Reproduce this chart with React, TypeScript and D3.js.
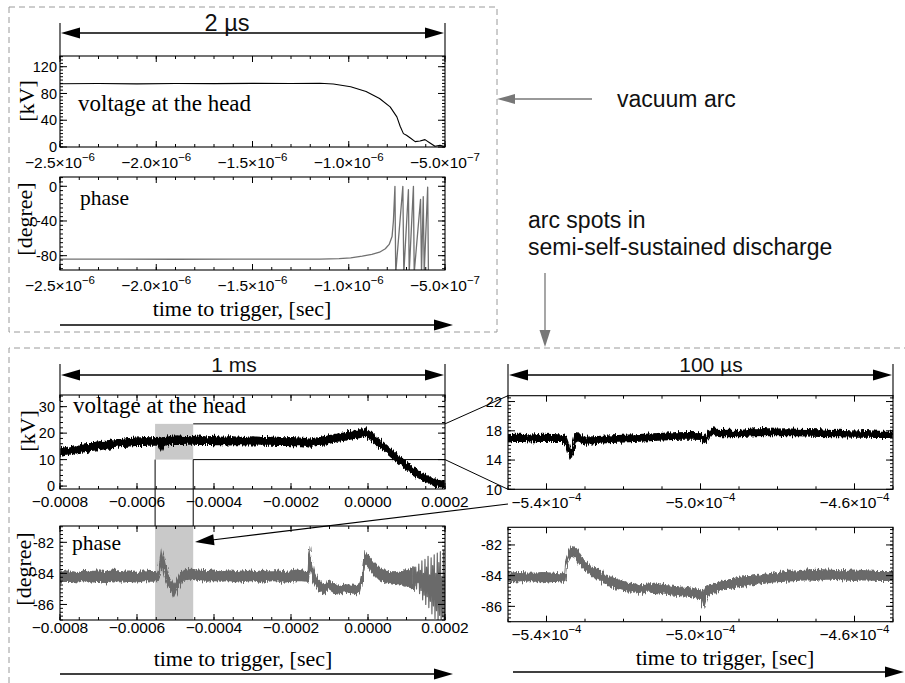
import React, { useRef, useEffect } from 'react';
import * as d3 from 'd3';

// vacuum arc, 2 us window (time in microseconds)
const arcVoltage: [number, number][] = [
  [-2.5, 94.5], [-2.3, 94.8], [-2.1, 94.4], [-1.9, 94.9], [-1.7, 94.7], [-1.5, 95.1],
  [-1.3, 95.0], [-1.15, 95.2], [-1.08, 94.2], [-0.99, 90], [-0.91, 83], [-0.84, 72.5],
  [-0.785, 60], [-0.75, 45], [-0.733, 31], [-0.716, 20], [-0.7, 17.5], [-0.68, 13.5],
  [-0.655, 8], [-0.63, 9], [-0.604, 11], [-0.578, 6], [-0.552, 1], [-0.526, 2.5], [-0.5, 0.5],
];
const arcPhase: [number, number][] = [
  [-2.5, -84], [-2.2, -84], [-1.9, -84.1], [-1.6, -84], [-1.3, -84], [-1.15, -83.9],
  [-1.05, -83.5], [-0.99, -82.5], [-0.93, -80.5], [-0.88, -78.5], [-0.84, -76], [-0.81, -72],
  [-0.79, -67], [-0.775, -58], [-0.768, -40], [-0.763, -15], [-0.76, 0], [-0.756, -100],
  [-0.719, 0], [-0.714, -100], [-0.69, -4], [-0.686, -100], [-0.664, 0], [-0.66, -100],
  [-0.627, -15], [-0.622, -100], [-0.613, -12], [-0.608, -100], [-0.59, -1], [-0.586, -100],
];

// semi-self-sustained discharge, 1 ms window (time in ms): [t, low, high] of the noisy trace
const spotVoltage: [number, number, number][] = [
  [-0.8, 11.2, 14.0], [-0.78, 11.9, 14.6], [-0.76, 12.6, 15.2], [-0.74, 12.9, 15.8],
  [-0.72, 13.5, 16.1], [-0.7, 13.8, 16.7], [-0.68, 14.3, 17.0], [-0.66, 14.6, 17.4],
  [-0.64, 14.9, 17.6], [-0.62, 15.2, 17.9], [-0.6, 15.4, 18.1], [-0.58, 15.4, 18.3],
  [-0.56, 15.6, 18.2], [-0.545, 15.5, 18.4], [-0.537, 13.2, 18.0], [-0.53, 15.4, 18.3],
  [-0.515, 15.8, 18.6], [-0.5, 15.9, 18.9], [-0.48, 15.8, 18.7], [-0.46, 16.0, 18.6],
  [-0.44, 15.8, 18.8], [-0.42, 15.9, 18.5], [-0.4, 15.7, 18.7], [-0.38, 15.8, 18.4],
  [-0.36, 15.6, 18.6], [-0.34, 15.8, 18.5], [-0.32, 15.6, 18.3], [-0.3, 15.7, 18.6],
  [-0.28, 15.5, 18.4], [-0.26, 15.6, 18.3], [-0.24, 15.4, 18.5], [-0.22, 15.5, 18.2],
  [-0.2, 15.3, 18.3], [-0.18, 15.4, 18.1], [-0.16, 15.0, 17.9], [-0.15, 14.7, 17.6],
  [-0.14, 15.2, 18.0], [-0.12, 15.5, 18.4], [-0.1, 16.2, 19.0], [-0.08, 16.9, 19.6],
  [-0.06, 17.4, 20.1], [-0.04, 17.9, 20.7], [-0.02, 18.4, 21.3], [-0.008, 18.9, 21.9],
  [0.0, 18.3, 21.0], [0.01, 17.1, 19.7], [0.02, 15.9, 18.5], [0.04, 13.6, 16.4],
  [0.06, 11.0, 13.9], [0.08, 8.6, 11.4], [0.1, 6.3, 9.0], [0.12, 4.1, 6.8],
  [0.14, 2.4, 4.9], [0.16, 1.0, 3.3], [0.18, 0.0, 2.2], [0.2, -0.6, 1.6],
];
const spotPhase: [number, number, number][] = [
  [-0.8, -84.55, -83.95], [-0.78, -84.5, -83.85], [-0.76, -84.6, -83.95], [-0.74, -84.45, -83.8],
  [-0.72, -84.55, -83.9], [-0.7, -84.5, -83.85], [-0.68, -84.6, -83.9], [-0.66, -84.45, -83.8],
  [-0.64, -84.55, -83.9], [-0.62, -84.5, -83.85], [-0.6, -84.55, -83.95], [-0.58, -84.45, -83.85],
  [-0.56, -84.5, -83.9], [-0.545, -84.45, -83.85], [-0.54, -84.1, -83.2], [-0.536, -83.3, -82.4],
  [-0.53, -83.9, -83.1], [-0.522, -84.6, -84.0], [-0.512, -85.0, -84.45], [-0.505, -85.5, -84.8],
  [-0.498, -85.1, -84.5], [-0.488, -84.6, -84.0], [-0.475, -84.4, -83.8], [-0.46, -84.35, -83.75],
  [-0.44, -84.45, -83.8], [-0.42, -84.5, -83.85], [-0.4, -84.45, -83.8], [-0.38, -84.5, -83.9],
  [-0.36, -84.45, -83.85], [-0.34, -84.55, -83.9], [-0.32, -84.5, -83.85], [-0.3, -84.45, -83.8],
  [-0.28, -84.55, -83.9], [-0.26, -84.5, -83.85], [-0.24, -84.45, -83.85], [-0.22, -84.55, -83.9],
  [-0.2, -84.5, -83.85], [-0.18, -84.45, -83.8], [-0.16, -84.5, -83.9], [-0.155, -84.45, -83.85],
  [-0.152, -83.6, -82.3], [-0.148, -84.0, -83.1], [-0.142, -84.5, -83.8], [-0.13, -85.0, -84.4],
  [-0.115, -85.3, -84.7], [-0.105, -85.2, -84.6], [-0.1, -85.0, -84.45], [-0.09, -85.2, -84.65],
  [-0.07, -85.3, -84.8], [-0.05, -85.2, -84.75], [-0.03, -85.3, -84.8], [-0.02, -85.2, -84.6],
  [-0.016, -84.8, -84.1], [-0.008, -83.3, -82.6], [0.0, -83.5, -82.9], [0.014, -84.0, -83.3],
  [0.03, -84.4, -83.7], [0.05, -84.6, -83.9], [0.07, -84.7, -83.9], [0.09, -84.75, -83.85],
  [0.11, -84.9, -83.7], [0.12, -85.0, -83.6],
];
const spotPhaseTail: [number, number][] = [
  [0.118, -84.2], [0.12, -83.7], [0.122, -84.8], [0.124, -83.6], [0.126, -85.0], [0.128, -83.9],
  [0.13, -84.6], [0.132, -83.4], [0.134, -85.3], [0.136, -83.8], [0.138, -85.1], [0.14, -83.2],
  [0.142, -85.7], [0.144, -84.0], [0.146, -85.4], [0.148, -83.1], [0.15, -86.0], [0.152, -83.6],
  [0.154, -85.5], [0.156, -82.9], [0.158, -86.2], [0.16, -84.1], [0.162, -85.8], [0.164, -83.0],
  [0.166, -86.6], [0.168, -83.5], [0.17, -86.1], [0.172, -82.8], [0.174, -86.9], [0.176, -84.0],
  [0.178, -86.4], [0.18, -82.7], [0.182, -87.2], [0.184, -83.3], [0.186, -86.7], [0.188, -82.6],
  [0.19, -87.3], [0.192, -84.2], [0.194, -86.8], [0.196, -82.5], [0.198, -87.4], [0.2, -84.0],
];

// 100 us zoom (time in units of 1e-4 s)
const zoomVoltage: [number, number, number][] = [
  [-5.5, 16.55, 17.45], [-5.47, 16.6, 17.5], [-5.44, 16.5, 17.4], [-5.41, 16.6, 17.5],
  [-5.38, 16.55, 17.45], [-5.36, 16.6, 17.4], [-5.35, 16.2, 17.2], [-5.345, 15.3, 16.5],
  [-5.339, 14.2, 15.2], [-5.333, 14.6, 15.9], [-5.326, 16.4, 17.4], [-5.318, 16.7, 17.7],
  [-5.31, 16.3, 17.3], [-5.296, 16.2, 17.1], [-5.27, 16.3, 17.2], [-5.244, 16.4, 17.25],
  [-5.2, 16.5, 17.35], [-5.157, 16.6, 17.45], [-5.11, 16.75, 17.6], [-5.071, 16.85, 17.7],
  [-5.03, 16.9, 17.75], [-5.0, 16.85, 17.7], [-4.99, 16.4, 17.2], [-4.984, 16.5, 17.3],
  [-4.975, 17.2, 18.1], [-4.967, 17.7, 18.5], [-4.958, 17.3, 18.1], [-4.949, 17.2, 18.0],
  [-4.92, 17.25, 18.05], [-4.897, 17.2, 18.0], [-4.86, 17.35, 18.25], [-4.83, 17.4, 18.3],
  [-4.811, 17.35, 18.2], [-4.78, 17.4, 18.25], [-4.75, 17.35, 18.2], [-4.724, 17.3, 18.15],
  [-4.69, 17.25, 18.1], [-4.66, 17.2, 18.0], [-4.638, 17.2, 18.05], [-4.6, 17.15, 17.95],
  [-4.57, 17.15, 18.0], [-4.54, 17.1, 17.9], [-4.5, 17.1, 17.9],
];
const zoomPhase: [number, number, number][] = [
  [-5.5, -84.35, -83.85], [-5.47, -84.4, -83.8], [-5.44, -84.3, -83.85], [-5.41, -84.45, -83.8],
  [-5.38, -84.35, -83.85], [-5.36, -84.4, -83.9], [-5.352, -84.3, -83.8], [-5.349, -83.4, -82.9],
  [-5.34, -82.9, -82.3], [-5.335, -82.7, -82.1], [-5.322, -82.9, -82.3], [-5.304, -83.6, -83.0],
  [-5.29, -83.8, -83.3], [-5.278, -84.1, -83.5], [-5.26, -84.3, -83.7], [-5.244, -84.6, -84.0],
  [-5.22, -84.8, -84.2], [-5.2, -84.95, -84.4], [-5.18, -85.0, -84.5], [-5.157, -85.15, -84.6],
  [-5.135, -85.05, -84.55], [-5.114, -85.1, -84.5], [-5.09, -85.2, -84.65], [-5.071, -85.25, -84.7],
  [-5.05, -85.3, -84.75], [-5.027, -85.35, -84.8], [-5.01, -85.45, -84.9], [-4.997, -85.6, -85.0],
  [-4.993, -85.95, -85.2], [-4.988, -85.5, -84.95], [-4.984, -85.3, -84.75], [-4.96, -85.1, -84.55],
  [-4.941, -84.9, -84.35], [-4.92, -84.8, -84.25], [-4.897, -84.7, -84.1], [-4.87, -84.6, -84.05],
  [-4.84, -84.5, -83.95], [-4.811, -84.4, -83.85], [-4.78, -84.35, -83.75], [-4.75, -84.3, -83.7],
  [-4.724, -84.25, -83.65], [-4.7, -84.3, -83.6], [-4.67, -84.2, -83.65], [-4.638, -84.25, -83.7],
  [-4.6, -84.3, -83.65], [-4.57, -84.25, -83.7], [-4.54, -84.3, -83.75], [-4.5, -84.3, -83.75],
];

// ticks and labels
const arcTimeTicks = [-2.5, -2.0, -1.5, -1.0, -0.5];
const arcTimeLabels = [['−2.5', '−6'], ['−2.0', '−6'], ['−1.5', '−6'], ['−1.0', '−6'], ['−5.0', '−7']];
const arcVoltTicks = [0, 40, 80, 120];
const arcVoltLabels = ['0', '40', '80', '120'];
const arcPhaseTicks = [0, -40, -80];
const arcPhaseLabels = ['0', '-40', '-80'];
const spotTimeTicks = [-0.8, -0.6, -0.4, -0.2, 0, 0.2];
const spotTimeLabels = ['−0.0008', '−0.0006', '−0.0004', '−0.0002', '0.0000', '0.0002'];
const spotVoltTicks = [0, 10, 20, 30];
const spotVoltLabels = ['0', '10', '20', '30'];
const phaseTicks = [-82, -84, -86];
const phaseLabels = ['-82', '-84', '-86'];
const zoomTimeTicks = [-5.4, -5.0, -4.6];
const zoomTimeLabels = [['−5.4', '−4'], ['−5.0', '−4'], ['−4.6', '−4']];
const zoomVoltTicks = [10, 14, 18, 22];
const zoomVoltLabels = ['10', '14', '18', '22'];

// shaded window of the 1 ms trace that is shown in the 100 us panels (ms, kV)
const windowTime = [-0.553, -0.454];
const windowVolt = [10, 23.5];

const SANS = '"Liberation Sans", Arial, Helvetica, sans-serif';
const SERIF = '"Liberation Serif", "Times New Roman", serif';
const PHASE_GREY = '#6a6a6a';

const steps = (domain: number[], step: number) => {
  const lo = Math.min(domain[0], domain[1]);
  const hi = Math.max(domain[0], domain[1]);
  const out: number[] = [];
  for (let k = Math.ceil(lo / step - 1e-6); k * step <= hi + 1e-9; k++) out.push(k * step);
  return out;
};

const App = () => {
  const svgRef = useRef<SVGSVGElement>(null);

  useEffect(() => {
    const svg = d3.select(svgRef.current);
    svg.selectAll('*').remove();

    const defs = svg.append('defs');
    const fuzz = defs.append('filter').attr('id', 'fuzz')
      .attr('x', '-2%').attr('y', '-40%').attr('width', '104%').attr('height', '180%');
    fuzz.append('feTurbulence').attr('type', 'fractalNoise').attr('baseFrequency', '0.8 0.05')
      .attr('numOctaves', 2).attr('seed', 4).attr('result', 'noise');
    fuzz.append('feDisplacementMap').attr('in', 'SourceGraphic').attr('in2', 'noise')
      .attr('scale', 7).attr('xChannelSelector', 'B').attr('yChannelSelector', 'R');

    const line = (g: any, x1: number, y1: number, x2: number, y2: number, color = '#000', w = 1) =>
      g.append('line').attr('x1', x1).attr('y1', y1).attr('x2', x2).attr('y2', y2)
        .attr('stroke', color).attr('stroke-width', w);

    const head = (g: any, tip: number[], from: number[], len: number, half: number, color: string) => {
      const dx = tip[0] - from[0];
      const dy = tip[1] - from[1];
      const L = Math.hypot(dx, dy);
      const ux = dx / L;
      const uy = dy / L;
      const bx = tip[0] - ux * len;
      const by = tip[1] - uy * len;
      g.append('path')
        .attr('d', `M${tip[0]},${tip[1]}L${bx - uy * half},${by + ux * half}L${bx + uy * half},${by - ux * half}Z`)
        .attr('fill', color);
    };

    const panel = (id: string, box: any, xDomain: number[], yDomain: number[],
      xMajor: number[], xMinor: number, yMajor: number[], yMinor: number) => {
      const x = d3.scaleLinear().domain(xDomain).range([box.left, box.right]);
      const y = d3.scaleLinear().domain(yDomain).range([box.bottom, box.top]);
      defs.append('clipPath').attr('id', id).append('rect')
        .attr('x', box.left).attr('y', box.top)
        .attr('width', box.right - box.left).attr('height', box.bottom - box.top);
      const under = svg.append('g');
      const data = svg.append('g').attr('clip-path', `url(#${id})`);
      const axes = svg.append('g');
      steps(xDomain, xMinor).forEach(v => {
        line(axes, x(v), box.bottom, x(v), box.bottom - 3);
        line(axes, x(v), box.top, x(v), box.top + 3);
      });
      xMajor.forEach(v => {
        line(axes, x(v), box.bottom, x(v), box.bottom - 6);
        line(axes, x(v), box.top, x(v), box.top + 6);
      });
      steps(yDomain, yMinor).forEach(v => {
        line(axes, box.left, y(v), box.left + 3, y(v));
        line(axes, box.right, y(v), box.right - 3, y(v));
      });
      yMajor.forEach(v => {
        line(axes, box.left, y(v), box.left + 7, y(v));
        line(axes, box.right, y(v), box.right - 7, y(v));
      });
      axes.append('rect').attr('x', box.left).attr('y', box.top)
        .attr('width', box.right - box.left).attr('height', box.bottom - box.top)
        .attr('fill', 'none').attr('stroke', '#000').attr('stroke-width', 1.1);
      return { x, y, under, data, axes, box };
    };

    const yLabels = (p: any, ticks: number[], labels: string[], gap: number) => {
      ticks.forEach((v, i) => {
        p.axes.append('text').attr('x', p.box.left - gap).attr('y', p.y(v)).attr('dy', '0.36em')
          .attr('text-anchor', 'end').attr('font-family', SANS).attr('font-size', 14.5).text(labels[i]);
      });
    };
    const xLabels = (p: any, ticks: number[], labels: string[], baseline: number) => {
      ticks.forEach((v, i) => {
        p.axes.append('text').attr('x', p.x(v)).attr('y', baseline)
          .attr('text-anchor', 'middle').attr('font-family', SANS).attr('font-size', 15.5).text(labels[i]);
      });
    };
    const sciLabels = (p: any, ticks: number[], labels: string[][], baseline: number) => {
      ticks.forEach((v, i) => {
        const t = p.axes.append('text').attr('x', p.x(v)).attr('y', baseline)
          .attr('text-anchor', 'middle').attr('font-family', SANS).attr('font-size', 15.5);
        t.append('tspan').text(`${labels[i][0]}×10`);
        t.append('tspan').attr('dy', -7).attr('font-size', 11.5).text(labels[i][1]);
      });
    };
    const serif = (x: number, y: number, s: string, size: number, anchor = 'start', rotate = false) => {
      const t = svg.append('text').attr('font-family', SERIF).attr('font-size', size)
        .attr('text-anchor', anchor).text(s);
      if (rotate) t.attr('transform', `translate(${x},${y}) rotate(-90)`);
      else t.attr('x', x).attr('y', y);
      return t;
    };
    const sans = (x: number, y: number, s: string, size: number, anchor = 'start') =>
      svg.append('text').attr('x', x).attr('y', y).attr('font-family', SANS).attr('font-size', size)
        .attr('text-anchor', anchor).attr('fill', '#111').text(s);

    const band = (p: any, rows: [number, number, number][], color: string) => {
      const area = d3.area<[number, number, number]>()
        .x(d => p.x(d[0])).y0(d => p.y(d[1])).y1(d => p.y(d[2]));
      p.data.append('path').datum(rows).attr('d', area).attr('fill', color)
        .attr('stroke', color).attr('stroke-width', 1.4).attr('filter', 'url(#fuzz)');
    };
    const trace = (p: any, rows: [number, number][], color: string, w: number) => {
      const l = d3.line<[number, number]>().x(d => p.x(d[0])).y(d => p.y(d[1]));
      p.data.append('path').datum(rows).attr('d', l).attr('fill', 'none')
        .attr('stroke', color).attr('stroke-width', w).attr('stroke-linejoin', 'round');
    };

    // dashed frames
    const dash = svg.append('g').attr('stroke', '#9a9a9a').attr('stroke-width', 1).attr('stroke-dasharray', '6,4').attr('fill', 'none');
    dash.append('rect').attr('x', 9).attr('y', 7).attr('width', 488).attr('height', 325);
    dash.append('path').attr('d', 'M9,683V348H905');

    // ---- top: vacuum arc ----
    const pA = panel('clipA', { left: 60, right: 445, top: 56, bottom: 147 }, [-2.5, -0.5], [0, 136],
      arcTimeTicks, 0.1, arcVoltTicks, 5);
    trace(pA, arcVoltage, '#000', 1.1);
    yLabels(pA, arcVoltTicks, arcVoltLabels, 3);
    sciLabels(pA, arcTimeTicks, arcTimeLabels, 168);

    const pB = panel('clipB', { left: 60, right: 445, top: 177, bottom: 270 }, [-2.5, -0.5], [-96.5, 10.7],
      arcTimeTicks, 0.1, arcPhaseTicks, 5);
    trace(pB, arcPhase, '#707070', 1.3);
    yLabels(pB, arcPhaseTicks, arcPhaseLabels, 3);
    sciLabels(pB, arcTimeTicks, arcTimeLabels, 290.5);

    serif(78, 111, 'voltage at the head', 23);
    serif(80, 205, 'phase', 21.5);
    serif(34, 101, '[kV]', 22, 'middle', true);
    serif(32, 219, '[degree]', 22, 'middle', true);
    serif(242, 316, 'time to trigger, [sec]', 22, 'middle');

    const ann = svg.append('g');
    line(ann, 60, 23, 60, 56, '#000', 1.1);
    line(ann, 445, 23, 445, 56, '#000', 1.1);
    line(ann, 70, 33, 435, 33, '#000', 1.3);
    head(ann, [61, 33], [100, 33], 19, 5.5, '#000');
    head(ann, [444, 33], [400, 33], 19, 5.5, '#000');
    sans(227, 31, '2 µs', 23.5, 'middle');
    line(ann, 60, 325, 440, 325, '#000', 1.3);
    head(ann, [453, 325], [400, 325], 19, 5.5, '#000');

    // annotations on the right
    sans(617, 107, 'vacuum arc', 23);
    line(ann, 592, 99, 510, 99, '#777', 1.3);
    head(ann, [497, 99], [592, 99], 18, 5, '#777');
    sans(528, 228, 'arc spots in', 23);
    sans(528, 255, 'semi-self-sustained discharge', 23);
    line(ann, 545, 273, 545, 335, '#777', 1.3);
    head(ann, [545, 347], [545, 273], 17, 5.5, '#777');

    // ---- bottom: 1 ms and 100 us ----
    const pC = panel('clipC', { left: 60, right: 445, top: 395, bottom: 489 }, [-0.8, 0.2], [-1.1, 34.4],
      spotTimeTicks, 0.05, spotVoltTicks, 2);
    const pD = panel('clipD', { left: 60, right: 445, top: 526, bottom: 620 }, [-0.8, 0.2], [-87, -80.95],
      spotTimeTicks, 0.05, phaseTicks, 0.25);
    const pE = panel('clipE', { left: 508, right: 893, top: 395.7, bottom: 489.3 }, [-5.5, -4.5], [10, 22.8],
      zoomTimeTicks, 0.1, zoomVoltTicks, 0.5);
    const pF = panel('clipF', { left: 508, right: 893, top: 527.3, bottom: 621.7 }, [-5.5, -4.5], [-87, -80.85],
      zoomTimeTicks, 0.1, phaseTicks, 0.25);

    // shaded window
    const wx0 = pC.x(windowTime[0]);
    const wx1 = pC.x(windowTime[1]);
    const wTop = pC.y(windowVolt[1]);
    const wBot = pC.y(windowVolt[0]);
    pC.under.append('rect').attr('x', wx0).attr('y', wTop).attr('width', wx1 - wx0).attr('height', wBot - wTop).attr('fill', '#c9c9c9');
    pD.under.append('rect').attr('x', pD.x(windowTime[0])).attr('y', 526)
      .attr('width', pD.x(windowTime[1]) - pD.x(windowTime[0])).attr('height', 94).attr('fill', '#c9c9c9');

    band(pC, spotVoltage, '#000');
    band(pD, spotPhase, PHASE_GREY);
    trace(pD, spotPhaseTail, PHASE_GREY, 1.2);
    band(pE, zoomVoltage, '#000');
    band(pF, zoomPhase, PHASE_GREY);

    yLabels(pC, spotVoltTicks, spotVoltLabels, 5);
    yLabels(pD, phaseTicks, phaseLabels, 6);
    yLabels(pE, zoomVoltTicks, zoomVoltLabels, 6);
    yLabels(pF, phaseTicks, phaseLabels, 6);
    xLabels(pC, spotTimeTicks, spotTimeLabels, 506.5);
    xLabels(pD, spotTimeTicks, spotTimeLabels, 633);
    sciLabels(pE, zoomTimeTicks, zoomTimeLabels, 508);
    sciLabels(pF, zoomTimeTicks, zoomTimeLabels, 640);

    // connectors from the shaded window to the zoom panels
    const con = svg.append('g');
    line(con, wx1, wTop, 445, wTop);
    line(con, wx1, wBot, 445, wBot);
    line(con, 445, wTop, 508, pE.y(22.8));
    line(con, 445, wBot, 508, pE.y(10));
    line(con, wx0, wBot, wx0, 526);
    line(con, wx1, wBot, wx1, 526);
    line(con, 508, 504, 212, 540, '#000', 1.1);
    head(con, [195, 542], [508, 504], 19, 5.5, '#000');

    serif(73, 413, 'voltage at the head', 23);
    serif(72, 550, 'phase', 21.5);
    serif(35, 431, '[kV]', 22, 'middle', true);
    serif(31, 569, '[degree]', 22, 'middle', true);
    serif(243, 666, 'time to trigger, [sec]', 22, 'middle');
    serif(725, 665, 'time to trigger, [sec]', 22, 'middle');

    // headers
    line(ann, 60, 364, 60, 395, '#000', 1.1);
    line(ann, 445, 364, 445, 395, '#000', 1.1);
    line(ann, 70, 375, 435, 375, '#000', 1.3);
    head(ann, [61, 375], [100, 375], 19, 5.5, '#000');
    head(ann, [444, 375], [400, 375], 19, 5.5, '#000');
    sans(234, 372, '1 ms', 21, 'middle');
    line(ann, 508, 364, 508, 396, '#000', 1.1);
    line(ann, 893, 364, 893, 396, '#000', 1.1);
    line(ann, 518, 375, 883, 375, '#000', 1.3);
    head(ann, [509, 375], [550, 375], 19, 5.5, '#000');
    head(ann, [892, 375], [850, 375], 19, 5.5, '#000');
    sans(711, 372, '100 µs', 21, 'middle');

    // time arrows
    line(ann, 60, 674, 440, 674, '#000', 1.3);
    head(ann, [453, 674], [400, 674], 19, 5.5, '#000');
    line(ann, 513, 672, 890, 672, '#000', 1.3);
    head(ann, [904, 672], [850, 672], 19, 5.5, '#000');
  }, []);

  return (
    <svg ref={svgRef} width={905} height={683}
      style={{ position: 'absolute', left: 0, top: 0, background: '#fff' }} />
  );
};

export default App;
